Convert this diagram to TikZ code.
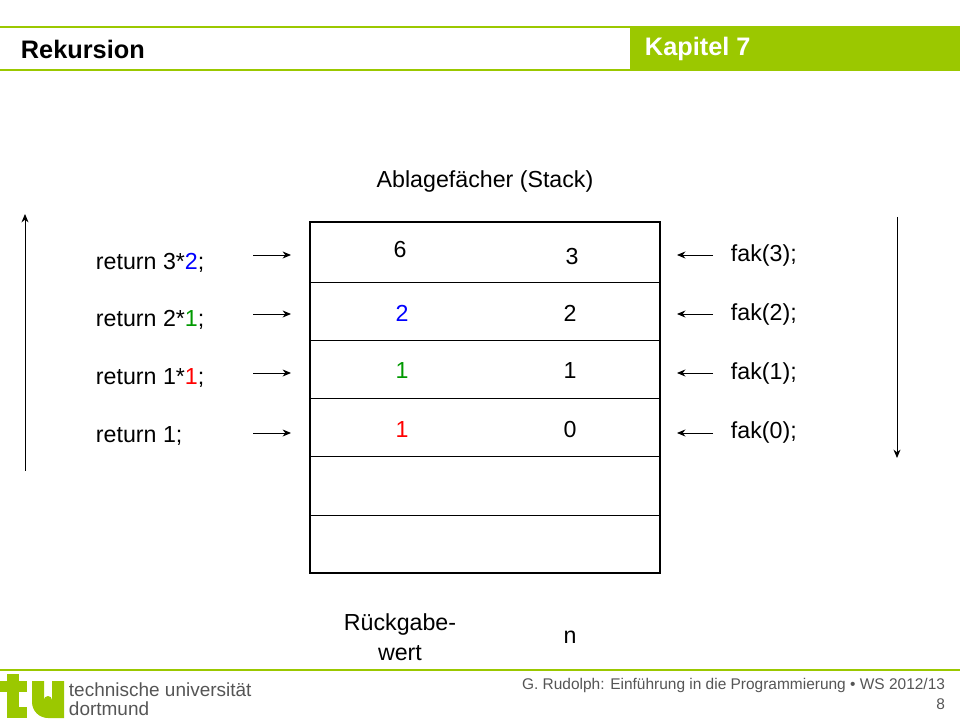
\documentclass[tikz,border=0pt]{standalone}
\usepackage{fontspec}
\setmainfont{Liberation Sans}
\usetikzlibrary{arrows.meta}
\definecolor{tugreen}{HTML}{9BC800}
\definecolor{tugray}{HTML}{555555}
\begin{document}
\begin{tikzpicture}[x=0.025cm,y=-0.025cm,
  txt/.style={font=\fontsize{16.5}{19}\selectfont},
  arr/.style={-{Stealth[length=6pt,width=5pt]},semithick}]

% Page frame
\useasboundingbox (0,0) rectangle (960,720);

% Header
\fill[tugreen] (630,27) rectangle (960,70);
\draw[tugreen,thick] (0,27) -- (960,27);
\draw[tugreen,thick] (0,70) -- (960,70);
\node[anchor=west,font=\fontsize{18}{21}\selectfont\bfseries] (title) at (16,49) {Rekursion};
\node[anchor=west,text=white,font=\fontsize{18}{21}\selectfont\bfseries] (chapter) at (640,49) {Kapitel 7};

% Stack
\node[txt] (stacktitle) at (485,182) {Ablagefächer (Stack)};
\draw[very thick] (310,222) rectangle (660,573);
\foreach \y in {282,340,398,456,515}
  \draw (310,\y) -- (660,\y);

% Entries
\node[txt] (r3) at (400,250) {6};
\node[txt] (n3) at (572,257) {3};
\node[txt,text=blue] (r2) at (402,313) {2};
\node[txt] (n2) at (570,313) {2};
\node[txt,text=green!60!black] (r1) at (402,371) {1};
\node[txt] (n1) at (570,371) {1};
\node[txt,text=red] (r0) at (402,430) {1};
\node[txt] (n0) at (570,430) {0};

% Column labels
\node[txt,align=center] (rueck) at (400,637) {Rückgabe-\\[2pt]wert};
\node[txt] (nlabel) at (570,637) {n};

% Returns (left)
\node[txt,anchor=west] (ret3) at (91,263) {return 3*{\color{blue}2};};
\node[txt,anchor=west] (ret2) at (91,320) {return 2*{\color{green!60!black}1};};
\node[txt,anchor=west] (ret1) at (91,378) {return 1*{\color{red}1};};
\node[txt,anchor=west] (ret0) at (91,436) {return 1;};

% Calls (right)
\node[txt,anchor=west] (fak3) at (726,255) {fak(3);};
\node[txt,anchor=west] (fak2) at (726,314) {fak(2);};
\node[txt,anchor=west] (fak1) at (726,373) {fak(1);};
\node[txt,anchor=west] (fak0) at (726,432) {fak(0);};

% Arrows into the stack
\foreach \y in {255,314,373,433} {
  \coordinate (la) at (253,\y);
  \coordinate (lb) at (291,\y);
  \coordinate (ra) at (713,\y);
  \coordinate (rb) at (677,\y);
  \draw[arr] (la) -- (lb);
  \draw[arr] (ra) -- (rb);
}

% Direction arrows
\coordinate (upA) at (25,471);
\coordinate (upB) at (25,214);
\coordinate (dnA) at (897,217);
\coordinate (dnB) at (897,458);
\draw[arr] (upA) -- (upB);
\draw[arr] (dnA) -- (dnB);

% Footer
\draw[tugreen,thick] (0,670) -- (960,670);
\fill[tugreen] (7,674) rectangle (19,718);
\fill[tugreen] (0,681) rectangle (27,692);
\fill[tugreen] (19,707) rectangle (27,718);
\fill[tugreen] (32,681) -- (44,681) -- (44,700) arc[start angle=180,end angle=360,radius=4]
  -- (52,681) -- (64,681) -- (64,718) -- (48,718) arc[start angle=90,end angle=180,radius=16]
  -- cycle;
\node[anchor=west,text=tugray,font=\fontsize{13.5}{15}\selectfont] (uni1) at (64,690) {technische universität};
\node[anchor=west,text=tugray,font=\fontsize{13.5}{15}\selectfont] (uni2) at (64,709) {dortmund};
\node[anchor=east,text=tugray,font=\fontsize{11}{13}\selectfont] (foot) at (950,685) {G. Rudolph: Einführung in die Programmierung \textbullet{} WS 2012/13};
\node[anchor=east,text=tugray,font=\fontsize{11}{13}\selectfont] (page) at (950,704) {8};

\end{tikzpicture}
\end{document}
